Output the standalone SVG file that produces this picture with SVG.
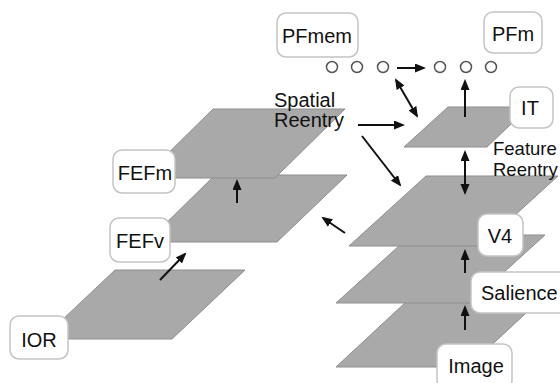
<svg xmlns="http://www.w3.org/2000/svg" width="560" height="383" viewBox="0 0 560 383">
<style>
.pl{fill:#a9a9a9;stroke:#8e8e8e;stroke-width:1}
.bx{fill:#fff;stroke:#c4c4c4;stroke-width:1.5}
.t{font-family:"Liberation Sans",Arial,sans-serif;font-size:20px;fill:#111}
.s{font-size:18.5px}
.c{text-anchor:middle}
.ar{stroke:#111;stroke-width:2;fill:none;marker-end:url(#ah)}
.dar{stroke:#111;stroke-width:2;fill:none;marker-end:url(#ah);marker-start:url(#ah)}
.ci{fill:#fff;stroke:#555;stroke-width:1.5}
</style>
<defs>
<marker id="ah" markerUnits="userSpaceOnUse" markerWidth="11" markerHeight="10" refX="9" refY="4.5" orient="auto-start-reverse">
<path d="M0,0 L11,4.5 L0,9 z" fill="#111"/>
</marker>
</defs>
<rect width="560" height="383" fill="#fff"/>

<g id="IOR">
<polygon class="pl" points="115,270 245,270 172,339 42,339"/>
<rect class="bx" x="10" y="316" width="58" height="43" rx="9"/>
<text class="t c" x="39" y="347">IOR</text>
</g>
<g id="FEFv">
<polygon class="pl" points="215,175 347,175 277,242 147,242"/>
<rect class="bx" x="110" y="218" width="60" height="44" rx="9"/>
<text class="t c" x="140" y="248">FEFv</text>
</g>
<g id="FEFm">
<polygon class="pl" points="213,109 345,109 275,178 143,178"/>
<rect class="bx" x="113" y="150" width="62" height="43" rx="9"/>
<text class="t c" x="145" y="180">FEFm</text>
</g>
<g id="Image">
<polygon class="pl" points="407,301 539,301 468,367 336,367"/>
</g>
<g id="Salience">
<polygon class="pl" points="411,235 545,235 470,303 336,303"/>
</g>
<g id="V4">
<polygon class="pl" points="426,176 558,176 481,246 349,246"/>
</g>
<g id="IT">
<polygon class="pl" points="448,107 529,107 487,147 404,147"/>
<rect class="bx" x="510" y="87" width="43" height="41" rx="9"/>
<text class="t c" x="530" y="115">IT</text>
</g>
<g id="V4-label">
<rect class="bx" x="478" y="214" width="45" height="42" rx="9"/>
<text class="t c" x="500" y="243">V4</text>
</g>
<g id="Salience-label">
<rect class="bx" x="471" y="272" width="100" height="41" rx="9"/>
<text class="t" x="481" y="300">Salience</text>
</g>
<g id="Image-label">
<rect class="bx" x="437" y="344" width="75" height="45" rx="9"/>
<text class="t c" x="476" y="373">Image</text>
</g>
<g id="PFmem">
<rect class="bx" x="277" y="13" width="81" height="44" rx="9"/>
<text class="t c" x="317" y="43">PFmem</text>
<circle class="ci" cx="332" cy="67" r="5.5"/>
<circle class="ci" cx="357" cy="67" r="5.5"/>
<circle class="ci" cx="383" cy="67" r="5.5"/>
</g>
<g id="PFm">
<rect class="bx" x="484" y="12" width="58" height="41" rx="9"/>
<text class="t c" x="513" y="41">PFm</text>
<circle class="ci" cx="440" cy="67" r="5.5"/>
<circle class="ci" cx="466" cy="67" r="5.5"/>
<circle class="ci" cx="491" cy="67" r="5.5"/>
</g>
<g id="labels">
<text class="t" x="274" y="107">Spatial</text>
<text class="t" x="274" y="127">Reentry</text>
<text class="t s" x="493" y="155">Feature</text>
<text class="t s" x="493" y="176">Reentry</text>
</g>
<g id="connectors">
<line class="ar" x1="237" y1="203" x2="237" y2="181"/>
<line class="ar" x1="160" y1="280" x2="185" y2="254"/>
<line class="ar" x1="345" y1="233" x2="323" y2="218"/>
<line class="ar" x1="358" y1="125" x2="403" y2="125"/>
<line class="ar" x1="362" y1="136" x2="400" y2="185"/>
<line class="ar" x1="397" y1="68" x2="424" y2="68"/>
<line class="dar" x1="396" y1="80" x2="417" y2="116"/>
<line class="ar" x1="465" y1="117" x2="465" y2="81"/>
<line class="dar" x1="465" y1="152" x2="465" y2="193"/>
<line class="ar" x1="465" y1="273" x2="465" y2="251"/>
<line class="ar" x1="465" y1="330" x2="465" y2="307"/>
</g>
</svg>
